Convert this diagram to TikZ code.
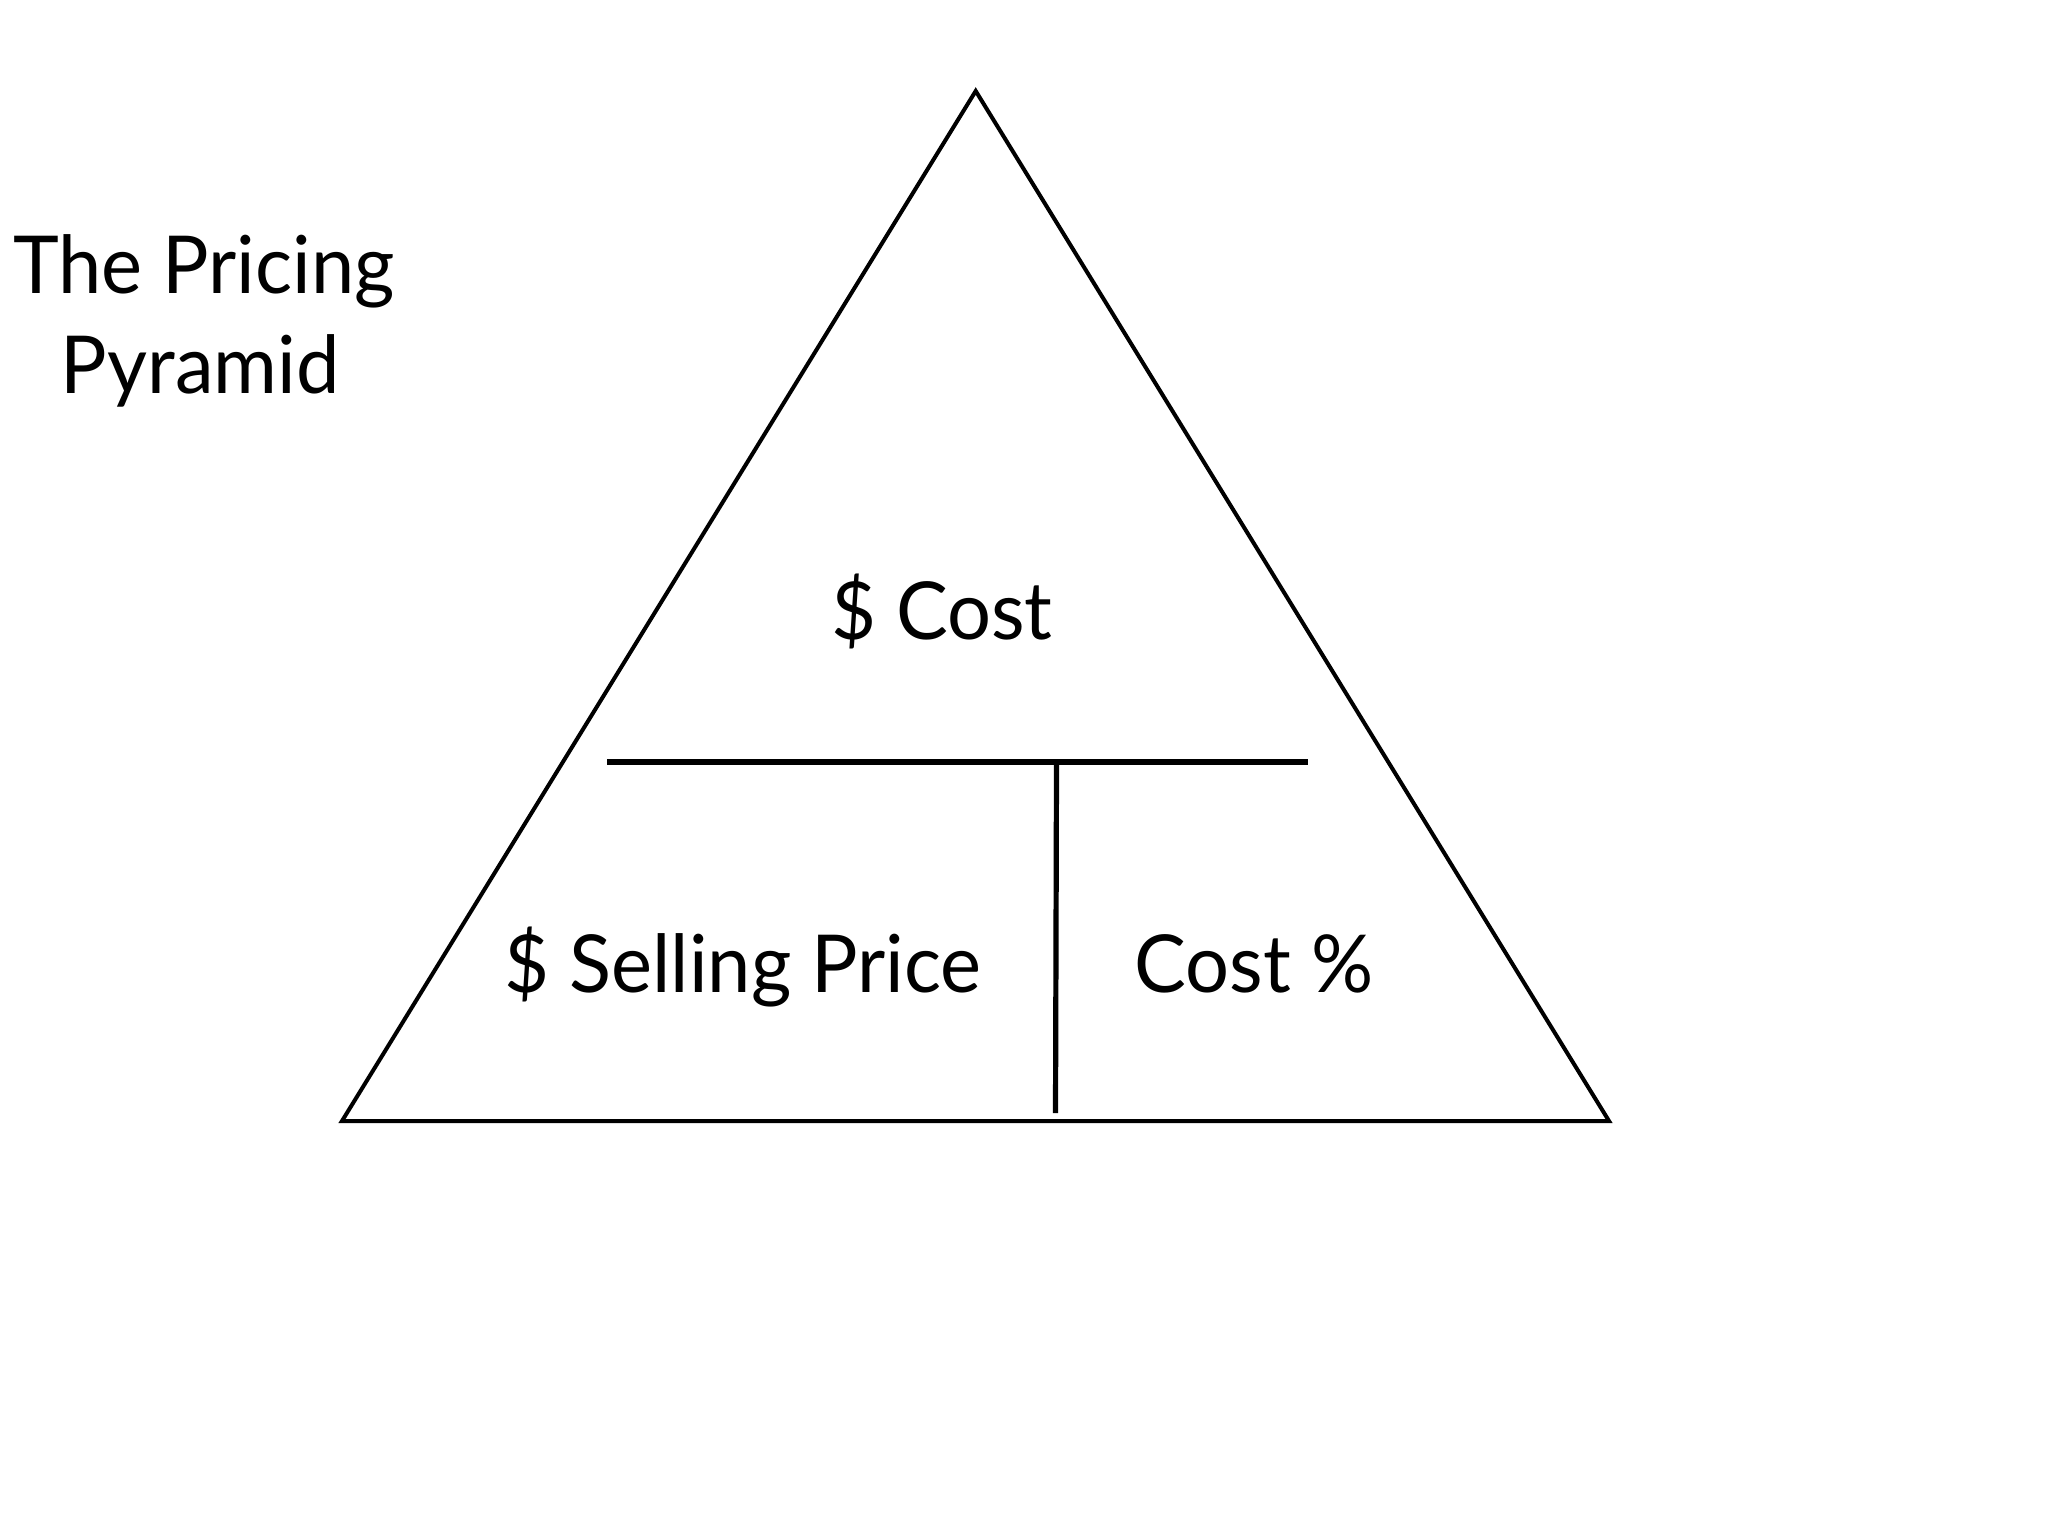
\documentclass[tikz,border=0pt]{standalone}
\usepackage{fontspec}
\setmainfont{Lato}
\newcommand{\narrowtxt}[1]{\scalebox{0.97}[1]{#1}}
\tikzset{
  px/.style={x=0.5pt,y=-0.5pt},
  lbl/.style={anchor=base,inner sep=0pt,outer sep=0pt,font=\fontsize{40}{48}\selectfont},
  tri/.style={draw=black,line width=2pt,line join=miter},
  bar/.style={draw=black,line width=3pt},
  post/.style={draw=black,line width=2.6pt}
}
\begin{document}
\begin{tikzpicture}[px]
\useasboundingbox[fill=white] (0,0) rectangle (2048,1536);
\coordinate (apex) at (975.7,91);
\coordinate (bl) at (342,1121);
\coordinate (br) at (1609,1121);
\coordinate (hl) at (607,762);
\coordinate (hr) at (1308,762);
\coordinate (vt) at (1056.5,763);
\coordinate (vb) at (1055.5,1113);
\draw[tri] (apex) -- (bl) -- (br) -- cycle;
\draw[bar] (hl) -- (hr);
\draw[post] (vt) -- (vb);
\node[lbl] (t1) at (204,293) {\narrowtxt{The Pricing}};
\node[lbl] (t2) at (200,393) {\narrowtxt{Pyramid}};
\node[lbl] (cost) at (942,639) {\narrowtxt{\$ Cost}};
\node[lbl] (sp) at (743,992) {\narrowtxt{\$ Selling Price}};
\node[lbl] (cp) at (1254,992) {\narrowtxt{Cost \%}};
\end{tikzpicture}
\end{document}
